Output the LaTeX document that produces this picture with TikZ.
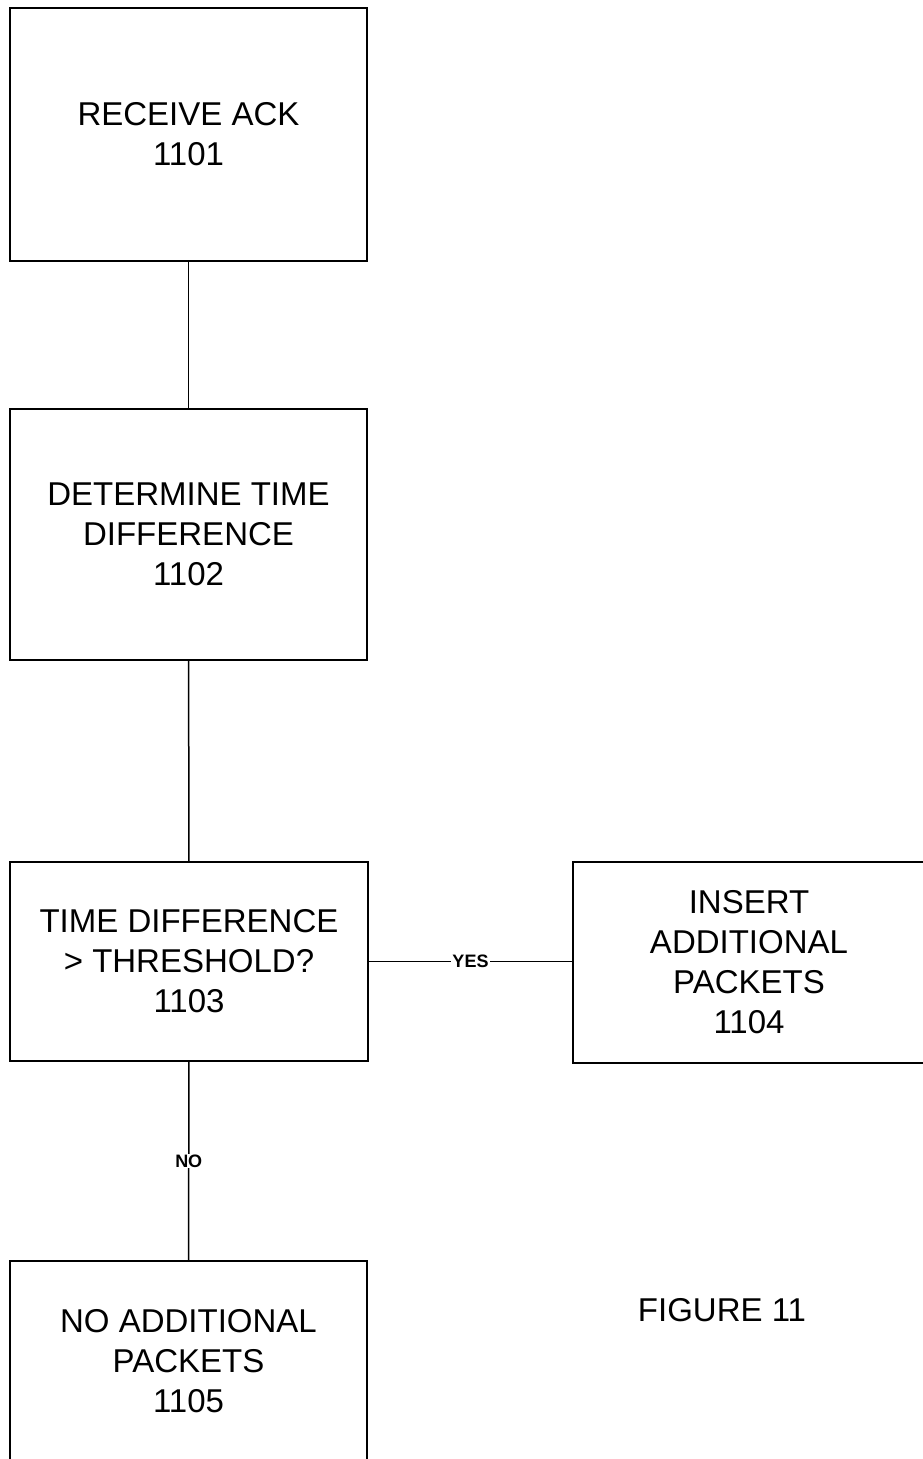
\documentclass[tikz,border=0pt]{standalone}
\usepackage{fontspec}
\setmainfont{Liberation Sans}
\begin{document}
\begin{tikzpicture}[x=1pt,y=-1pt,
  stepbox/.style={draw, line width=2pt, align=center, inner sep=0pt,
    font=\fontsize{33}{40}\selectfont},
  link/.style={line width=1.5pt},
  tag/.style={fill=white, inner sep=1pt, font=\fontsize{18}{22}\selectfont\bfseries}]
\useasboundingbox (0,0) rectangle (923,1459);

\node[stepbox, minimum width=357pt, minimum height=253pt] (b1) at (188.5,134.5)
  {RECEIVE ACK\\1101};
\node[stepbox, minimum width=357pt, minimum height=251pt] (b2) at (188.5,534.5)
  {DETERMINE TIME\\DIFFERENCE\\1102};
\node[stepbox, minimum width=358pt, minimum height=199pt] (b3) at (189,961.5)
  {TIME DIFFERENCE\\> THRESHOLD?\\1103};
\node[stepbox, minimum width=352pt, minimum height=201pt] (b4) at (749,962.5)
  {INSERT\\ADDITIONAL\\PACKETS\\1104};
\node[stepbox, minimum width=357pt, minimum height=200pt] (b5) at (188.5,1361)
  {NO ADDITIONAL\\PACKETS\\1105};

\node[font=\fontsize{33}{40}\selectfont] (fig) at (722,1310) {FIGURE 11};

\draw[link] (b1) -- (b2);
\draw[link] (b2) -- (b3);
\draw[link] (b3.east) -- node[tag] {YES} (b3.east -| b4.west);
\draw[link] (b3) -- node[tag] {NO} (b5);
\end{tikzpicture}
\end{document}
